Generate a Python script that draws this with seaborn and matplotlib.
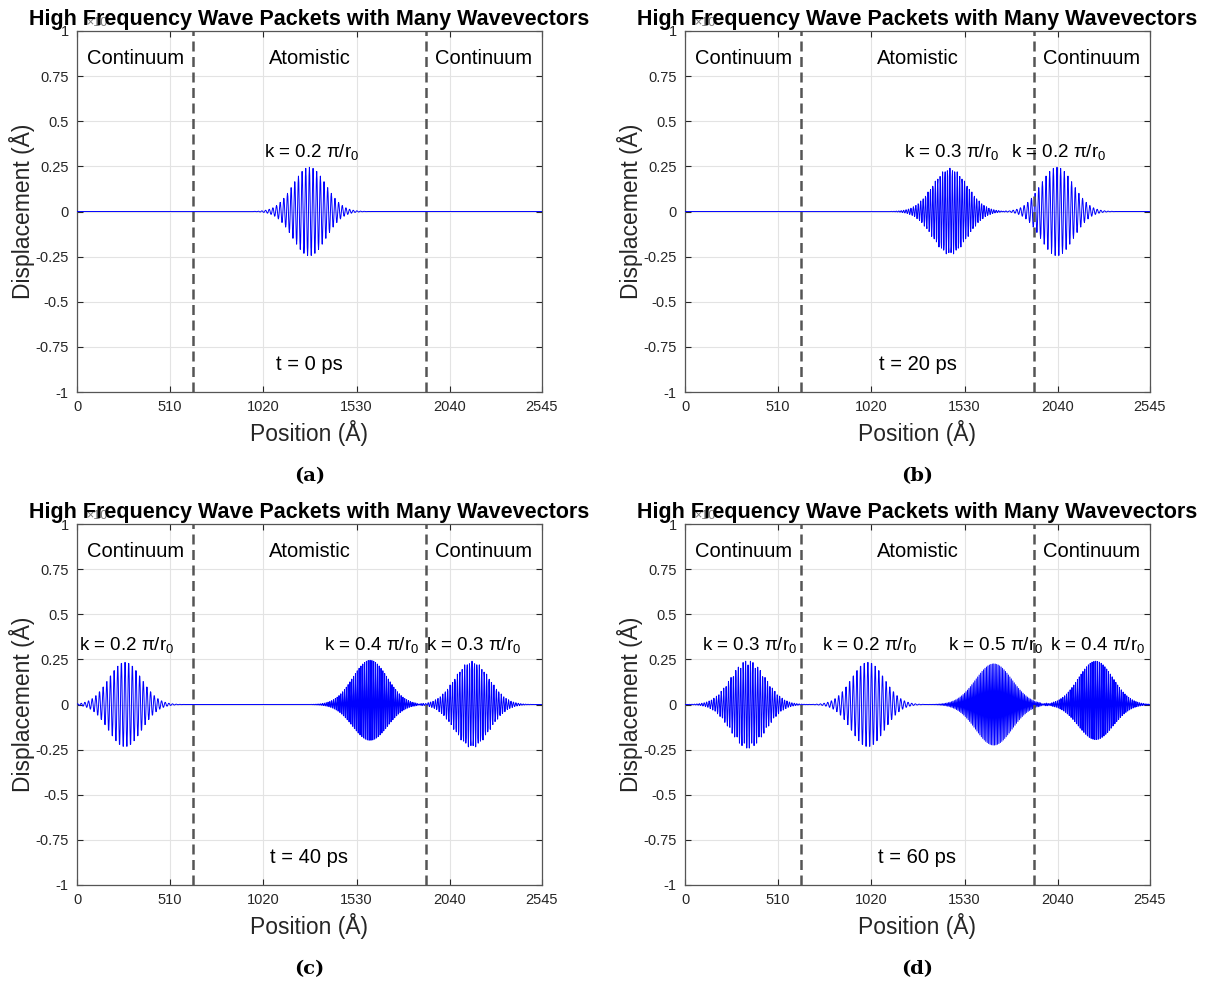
import numpy as np
import pandas as pd
import matplotlib
matplotlib.use("Agg")
import matplotlib.pyplot as plt
import seaborn as sns

# ---- data ----
X_MAX = 2545
R0 = 2.0                       # lattice spacing (Angstrom)
BOUNDARIES = [636, 1909]       # continuum / atomistic interfaces
X_TICKS = [0, 510, 1020, 1530, 2040, 2545]
Y_TICKS = [1, 0.75, 0.5, 0.25, 0, -0.25, -0.5, -0.75, -1]
Y_TICK_LABELS = ["1", "0.75", "0.5", "0.25", "0", "-0.25", "-0.5", "-0.75", "-1"]

panel_tags = ["(a)", "(b)", "(c)", "(d)"]
times_ps = [0, 20, 40, 60]

# wave packet centres (Angstrom), wavevectors (pi/r0), amplitudes, widths
centers = [
    [1272],
    [1450, 2036],
    [263, 1604, 2162],
    [345, 1001, 1690, 2248],
]
wavevectors = [
    [0.2],
    [0.3, 0.2],
    [0.2, 0.4, 0.3],
    [0.3, 0.2, 0.5, 0.4],
]
amplitudes = [
    [0.245],
    [0.24, 0.245],
    [0.245, 0.245, 0.24],
    [0.245, 0.245, 0.225, 0.24],
]
widths = [
    [90],
    [95, 90],
    [90, 95, 95],
    [95, 90, 100, 95],
]

region_names = ["Continuum", "Atomistic", "Continuum"]
TITLE = "High Frequency Wave Packets with Many Wavevectors"


def build_frame(i):
    x = np.arange(0, X_MAX + R0, R0)
    u = np.zeros_like(x)
    for c, k, a, s in zip(centers[i], wavevectors[i], amplitudes[i], widths[i]):
        u += a * np.exp(-((x - c) ** 2) / (2 * s ** 2)) * np.cos(k * np.pi / R0 * (x - c))
    return pd.DataFrame({"Position": x, "Displacement": u})


sns.set_style("ticks")
plt.rcParams["font.family"] = ["Liberation Sans", "DejaVu Sans"]
plt.rcParams["mathtext.fontset"] = "custom"
plt.rcParams["mathtext.rm"] = "Liberation Sans"
plt.rcParams["mathtext.it"] = "Liberation Sans"

fig = plt.figure(figsize=(12.06, 9.84), dpi=100)
W, H = 1206, 984
ax_w, ax_h = 465, 361
lefts = [77, 685, 77, 685]
tops = [31, 31, 524, 524]
text_col = "#262626"

for i in range(4):
    ax = fig.add_axes([lefts[i] / W, 1 - (tops[i] + ax_h) / H, ax_w / W, ax_h / H])
    df = build_frame(i)
    sns.lineplot(data=df, x="Position", y="Displacement", ax=ax,
                 color="#0000ff", linewidth=0.7, zorder=3)

    for b in BOUNDARIES:
        ax.axvline(b, color="#555555", linestyle=(0, (4, 2.2)), linewidth=1.8, zorder=4)

    ax.set_xlim(0, X_MAX)
    ax.set_ylim(-1, 1)
    ax.set_xticks(X_TICKS)
    ax.set_xticklabels([str(t) for t in X_TICKS])
    ax.set_yticks(Y_TICKS)
    ax.set_yticklabels(Y_TICK_LABELS)
    ax.grid(True, color="#e3e3e3", linewidth=0.8, zorder=0)
    ax.set_axisbelow(True)
    ax.tick_params(direction="in", length=4, width=0.8, labelsize=10.5,
                   colors=text_col, top=True, right=True, pad=6)
    for sp in ax.spines.values():
        sp.set_visible(True)
        sp.set_color("#555555")
        sp.set_linewidth(0.9)

    ax.set_xlabel("Position (Å)", fontsize=16.5, color=text_col, labelpad=4)
    ax.set_ylabel("Displacement (Å)", fontsize=16.5, color=text_col, labelpad=0)
    ax.set_title(TITLE, fontsize=15.5, fontweight="bold", color="black", pad=4)

    # region labels
    region_x = [BOUNDARIES[0] / 2, X_MAX / 2, (BOUNDARIES[1] + X_MAX) / 2]
    for rx, name in zip(region_x, region_names):
        ax.text(rx, 0.85, name, ha="center", va="center", fontsize=14.5,
                color="black", zorder=5)

    ax.text(X_MAX / 2, -0.85, f"t = {times_ps[i]} ps", ha="center", va="center",
            fontsize=14.5, color="black", zorder=5)

    for c, k in zip(centers[i], wavevectors[i]):
        ax.text(c + 10, 0.30, f"k = {k} π/r$_0$", ha="center", va="baseline",
                fontsize=13.5, color="black", zorder=5)

    ax.text(0.02, 1.005, "×10", transform=ax.transAxes, fontsize=9,
            color="#777777", ha="left", va="bottom")

    fig.text((lefts[i] + ax_w / 2) / W, 1 - (tops[i] + ax_h + 84) / H,
             panel_tags[i], ha="center", va="center", fontsize=14,
             fontweight="bold", family="DejaVu Serif", color="black")

fig.savefig("out.png", dpi=100)
